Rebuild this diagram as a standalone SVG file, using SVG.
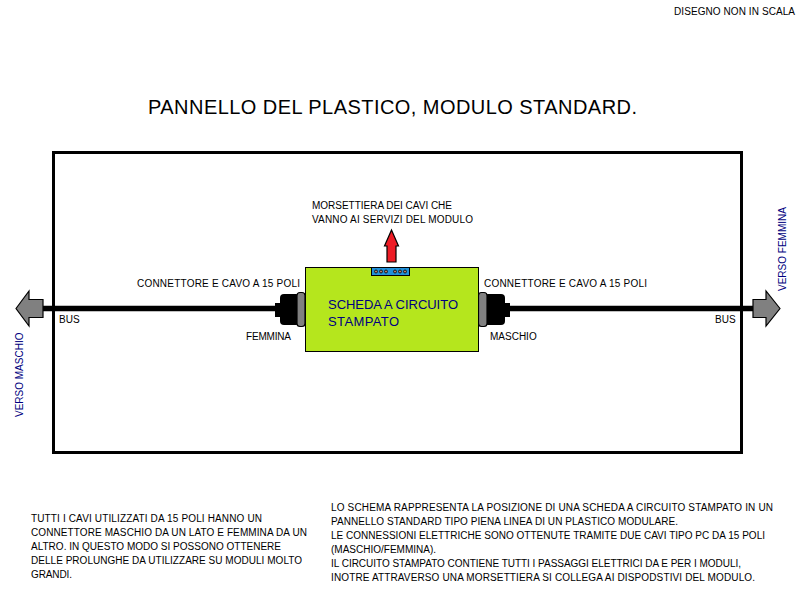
<svg xmlns="http://www.w3.org/2000/svg" width="800" height="600" viewBox="0 0 800 600">
<style>
text{font-family:"Liberation Sans",Arial,sans-serif;fill:#000}
.s{font-size:10px}
.n{fill:#000080}
.g{fill:#808080;stroke:#000;stroke-width:1.2}
</style>
<rect width="800" height="600" fill="#fff"/>
<g id="title"><text x="148" y="114" font-size="20" textLength="489">PANNELLO DEL PLASTICO, MODULO STANDARD.</text></g>
<text class="s" x="674" y="15" textLength="121">DISEGNO NON IN SCALA</text>
<g id="panel"><rect x="53.500" y="152.500" width="688" height="300" fill="none" stroke="#000" stroke-width="3"/></g>
<g id="connectors">
<path d="M43 308.500H278M507 308.500H753" stroke="#000" stroke-width="5.500" fill="none"/>
<path id="arrow-left" class="g" d="M16 308.500L29 291V299.500H43V317.500H29V326Z"/>
<path id="arrow-right" class="g" d="M780 308.500L766 291V299.500H753V317.500H766V326Z"/>
<path id="arrow-up" d="M391.500 230L398.500 246H396V262H387V246H384.500Z" fill="#ee1c25" stroke="#000" stroke-width="1.200"/>
</g>
<g id="connector-female">
<rect x="275" y="303" width="8" height="14" fill="#000"/>
<rect x="280" y="294" width="20" height="31" rx="4" fill="#000"/>
<rect class="g" x="297" y="292.500" width="8" height="34" rx="3"/>
</g>
<g id="connector-male">
<rect x="503" y="303" width="7" height="14" fill="#000"/>
<rect x="484" y="294" width="21" height="31" rx="4" fill="#000"/>
<rect class="g" x="478.500" y="292.500" width="8.500" height="34" rx="3"/>
</g>
<g id="board">
<rect x="305.500" y="267.500" width="173" height="84" fill="#b5e61d" stroke="#000"/>
<text x="328" y="309" font-size="13" class="n" textLength="130">SCHEDA A CIRCUITO</text>
<text x="328" y="326" font-size="13" class="n" textLength="71">STAMPATO</text>
</g>
<g id="terminal-block">
<rect x="371.500" y="267.500" width="38" height="8" fill="#2090d8" stroke="#000"/>
<g fill="#b08070" stroke="#000" stroke-width=".8">
<circle cx="376" cy="271.500" r="1.500"/><circle cx="381" cy="271.500" r="1.500"/><circle cx="386" cy="271.500" r="1.500"/>
<circle cx="395" cy="271.500" r="1.500"/><circle cx="400" cy="271.500" r="1.500"/><circle cx="405" cy="271.500" r="1.500"/>
</g>
</g>
<g id="labels" class="s">
<text class="s" x="312" y="209" textLength="140">MORSETTIERA DEI CAVI CHE</text>
<text class="s" x="312" y="223" textLength="161">VANNO AI SERVIZI DEL MODULO</text>
<text class="s" x="137" y="287" textLength="163">CONNETTORE E CAVO A 15 POLI</text>
<text class="s" x="484" y="287" textLength="163">CONNETTORE E CAVO A 15 POLI</text>
<text class="s" x="59" y="323">BUS</text>
<text class="s" x="715" y="323">BUS</text>
<text class="s" x="246" y="340" textLength="45">FEMMINA</text>
<text class="s" x="490" y="340">MASCHIO</text>
<text class="s n" transform="translate(23 417) rotate(-90)">VERSO MASCHIO</text>
<text class="s n" transform="translate(786 291) rotate(-90)">VERSO FEMMINA</text>
</g>
<g id="note-left">
<text class="s" x="31" y="522" textLength="231">TUTTI I CAVI UTILIZZATI DA 15 POLI HANNO UN</text>
<text class="s" x="31" y="536" textLength="276">CONNETTORE MASCHIO DA UN LATO E FEMMINA DA UN</text>
<text class="s" x="31" y="550" textLength="250">ALTRO. IN QUESTO MODO SI POSSONO OTTENERE</text>
<text class="s" x="31" y="564" textLength="271">DELLE PROLUNGHE DA UTILIZZARE SU MODULI MOLTO</text>
<text class="s" x="31" y="578" textLength="41">GRANDI.</text>
</g>
<g id="note-right">
<text class="s" x="331" y="511" textLength="442">LO SCHEMA RAPPRESENTA LA POSIZIONE DI UNA SCHEDA A CIRCUITO STAMPATO IN UN</text>
<text class="s" x="331" y="525" textLength="347">PANNELLO STANDARD TIPO PIENA LINEA DI UN PLASTICO MODULARE.</text>
<text class="s" x="331" y="539" textLength="434">LE CONNESSIONI ELETTRICHE SONO OTTENUTE TRAMITE DUE CAVI TIPO PC DA 15 POLI</text>
<text class="s" x="331" y="553">(MASCHIO/FEMMINA).</text>
<text class="s" x="331" y="567" textLength="410">IL CIRCUITO STAMPATO CONTIENE TUTTI I PASSAGGI ELETTRICI DA E PER I MODULI,</text>
<text class="s" x="331" y="581" textLength="424">INOTRE ATTRAVERSO UNA MORSETTIERA SI COLLEGA AI DISPODSTIVI DEL MODULO.</text>
</g>
</svg>
